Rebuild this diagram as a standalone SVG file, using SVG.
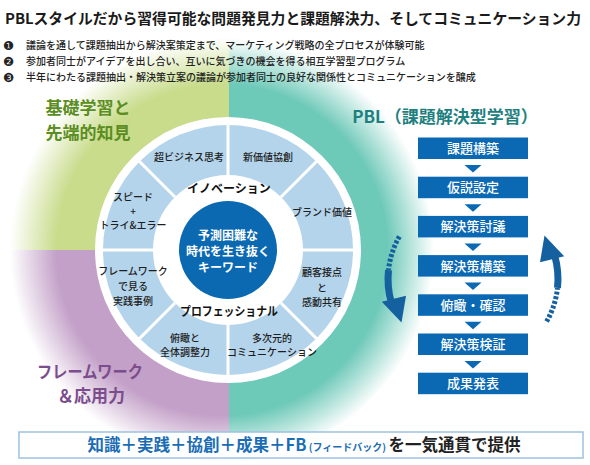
<svg xmlns="http://www.w3.org/2000/svg" width="590" height="465" viewBox="0 0 590 465">
<style>
.f{font-family:"Noto Sans CJK JP","Noto Sans",sans-serif}
.seg{font-family:"Noto Sans CJK JP","Noto Sans",sans-serif;font-size:10px;font-weight:500;fill:#1e1e1e;text-anchor:middle}
.bul{font-family:"Noto Sans CJK JP","Noto Sans",sans-serif;font-size:10px;font-weight:500;fill:#222}
.num{font-family:"DejaVu Sans","Noto Sans CJK JP",sans-serif;font-size:12.5px;fill:#222}
.box{fill:#0b69b4}
.boxt{font-family:"Noto Sans CJK JP","Noto Sans",sans-serif;font-size:13px;font-weight:500;fill:#fff;text-anchor:middle}
.tri{fill:#0b69b4}
.div{stroke:#fff;stroke-width:3}
.arr{fill:none;stroke:#15609f}
</style>
<defs>
<radialGradient id="fade" gradientUnits="userSpaceOnUse" cx="222" cy="250" r="212">
<stop offset="0.78" stop-color="#fff"/>
<stop offset="1" stop-color="#000"/>
</radialGradient>
<mask id="m"><rect width="590" height="465" fill="url(#fade)"/></mask>
<g id="arrowL">
<path class="arr" d="M 399.4 236.5 A 85 85 0 0 0 388.5 270.1" stroke-width="5" stroke-dasharray="3 1.8"/>
<path class="arr" d="M 388.5 270.1 A 85 85 0 0 0 391.3 302.4" stroke-width="7"/>
<polygon points="381.8,301.7 406,295.7 401.5,322.5" fill="#15609f"/>
</g>
</defs>
<rect width="590" height="465" fill="#fff"/>
<g id="background" mask="url(#m)">
<rect x="0" y="0" width="229" height="250" fill="#c8dc8b"/>
<rect x="229" y="0" width="361" height="465" fill="#6dc9b8"/>
<rect x="0" y="250" width="229" height="215" fill="#c3a0c8"/>
</g>
<g id="header">
<text class="f" x="5" y="24" font-size="14.8" font-weight="700" fill="#1a1a1a" textLength="576" lengthAdjust="spacingAndGlyphs">PBLスタイルだから習得可能な問題発見力と課題解決力、そしてコミュニケーション力</text>
<text class="num" x="3" y="50">❶</text>
<text class="bul" x="26" y="49">議論を通して課題抽出から解決案策定まで、マーケティング戦略の全プロセスが体験可能</text>
<text class="num" x="3" y="66">❷</text>
<text class="bul" x="26" y="65">参加者同士がアイデアを出し合い、互いに気づきの機会を得る相互学習型プログラム</text>
<text class="num" x="3" y="82">❸</text>
<text class="bul" x="26" y="81">半年にわたる課題抽出・解決策立案の議論が参加者同士の良好な関係性とコミュニケーションを醸成</text>
</g>
<g id="label-basics">
<text class="f" x="88" y="114" font-size="17" font-weight="700" fill="#5b8d22" text-anchor="middle">基礎学習と</text>
<text class="f" x="88" y="139" font-size="17" font-weight="700" fill="#5b8d22" text-anchor="middle">先端的知見</text>
</g>
<g id="label-framework">
<text class="f" x="90" y="378" font-size="17" font-weight="700" fill="#7b4d8c" text-anchor="middle" textLength="106" lengthAdjust="spacingAndGlyphs">フレームワーク</text>
<text class="f" x="91" y="402" font-size="17" font-weight="700" fill="#7b4d8c" text-anchor="middle">＆応用力</text>
</g>
<g id="ring">
<circle cx="228" cy="250" r="133" fill="#fff"/>
<circle cx="228" cy="250" r="125" fill="#b4d4eb"/>
<circle cx="228" cy="250" r="75" fill="#fff"/>
<line class="div" x1="303" y1="250" x2="354" y2="250"/>
<line class="div" x1="281" y1="303" x2="317.1" y2="339.1"/>
<line class="div" x1="228" y1="325" x2="228" y2="376"/>
<line class="div" x1="175" y1="303" x2="138.9" y2="339.1"/>
<line class="div" x1="153" y1="250" x2="102" y2="250"/>
<line class="div" x1="175" y1="197" x2="138.9" y2="160.9"/>
<line class="div" x1="228" y1="175" x2="228" y2="124"/>
<line class="div" x1="281" y1="197" x2="317.1" y2="160.9"/>
</g>
<g id="seg-super-business"><text class="seg" x="189" y="161">超ビジネス思考</text></g>
<g id="seg-new-value"><text class="seg" x="268" y="161">新価値協創</text></g>
<g id="seg-brand"><text class="seg" x="322" y="216">ブランド価値</text></g>
<g id="seg-customer"><text class="seg" x="322" y="276">顧客接点</text><text class="seg" x="322" y="291.5">と</text><text class="seg" x="322" y="306">感動共有</text></g>
<g id="seg-multi"><text class="seg" x="272" y="341.5">多次元的</text><text class="seg" x="272" y="355.5">コミュニケーション</text></g>
<g id="seg-overview"><text class="seg" x="185" y="341.5">俯瞰と</text><text class="seg" x="185" y="355.5">全体調整力</text></g>
<g id="seg-framework"><text class="seg" x="133" y="275">フレームワーク</text><text class="seg" x="133" y="290">で見る</text><text class="seg" x="133" y="305">実践事例</text></g>
<g id="seg-speed"><text class="seg" x="133" y="201">スピード</text><text class="seg" x="133" y="215">+</text><text class="seg" x="133" y="229">トライ&amp;エラー</text></g>
<g id="label-innovation"><text class="f" x="229" y="192.5" font-size="12" font-weight="700" fill="#111" text-anchor="middle">イノベーション</text></g>
<g id="label-professional"><text class="f" x="229" y="316" font-size="12" font-weight="700" fill="#111" text-anchor="middle" textLength="98" lengthAdjust="spacingAndGlyphs">プロフェッショナル</text></g>
<g id="center">
<circle cx="228" cy="250" r="49" fill="#0b69b2"/>
<text class="f" x="228" y="239.5" font-size="12" font-weight="700" fill="#fff" text-anchor="middle">予測困難な</text>
<text class="f" x="228" y="255.5" font-size="12" font-weight="700" fill="#fff" text-anchor="middle">時代を生き抜く</text>
<text class="f" x="228" y="271.5" font-size="12" font-weight="700" fill="#fff" text-anchor="middle">キーワード</text>
</g>
<g id="pbl-title"><text class="f" x="445" y="123" font-size="17" font-weight="700" fill="#1f8080" text-anchor="middle">PBL（課題解決型学習）</text></g>
<g id="step1"><rect class="box" x="418" y="137.5" width="110" height="21.5"/><text class="boxt" x="473" y="153">課題構築</text></g>
<g id="step2"><rect class="box" x="418" y="176.7" width="110" height="21.5"/><text class="boxt" x="473" y="192.2">仮説設定</text></g>
<g id="step3"><rect class="box" x="418" y="215.9" width="110" height="21.5"/><text class="boxt" x="473" y="231.4">解決策討議</text></g>
<g id="step4"><rect class="box" x="418" y="255.1" width="110" height="21.5"/><text class="boxt" x="473" y="270.6">解決策構築</text></g>
<g id="step5"><rect class="box" x="418" y="294.3" width="110" height="21.5"/><text class="boxt" x="473" y="309.8">俯瞰・確認</text></g>
<g id="step6"><rect class="box" x="418" y="333.5" width="110" height="21.5"/><text class="boxt" x="473" y="349">解決策検証</text></g>
<g id="step7"><rect class="box" x="418" y="372.7" width="110" height="21.5"/><text class="boxt" x="473" y="388.2">成果発表</text></g>
<g id="connectors">
<polygon class="tri" points="464.5,165 481.5,165 473,172.5"/>
<polygon class="tri" points="464.5,204.2 481.5,204.2 473,211.7"/>
<polygon class="tri" points="464.5,243.4 481.5,243.4 473,250.9"/>
<polygon class="tri" points="464.5,282.6 481.5,282.6 473,290.1"/>
<polygon class="tri" points="464.5,321.8 481.5,321.8 473,329.3"/>
<polygon class="tri" points="464.5,361 481.5,361 473,368.5"/>
<use href="#arrowL"/>
<use href="#arrowL" transform="rotate(180 473 279)"/>
</g>
<g id="footer">
<rect x="19" y="432" width="564" height="26" fill="#fff" stroke="#9dc1e2" stroke-width="1.5"/>
<text class="f" x="304" y="451" text-anchor="middle" font-weight="700"><tspan font-size="16.5" fill="#1a6db5">知識＋実践＋協創＋成果＋FB</tspan><tspan font-size="10" fill="#1a6db5"> (フィードバック) </tspan><tspan font-size="16.5" fill="#222">を一気通貫で提供</tspan></text>
</g>
</svg>
